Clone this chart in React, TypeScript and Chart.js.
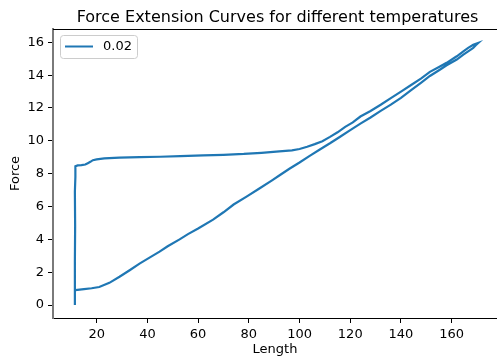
import React, { useEffect, useRef } from 'react';
import { Chart, registerables } from 'chart.js';

Chart.register(...registerables);

const TITLE = 'Force Extension Curves for different temperatures';
const X_LABEL = 'Length';
const Y_LABEL = 'Force';
const SERIES_LABEL = '0.02';

const X_TICKS = [20, 40, 60, 80, 100, 120, 140, 160];
const Y_TICKS = [0, 2, 4, 6, 8, 10, 12, 14, 16];

// loading branch (extension)
const LOAD_LENGTH = [11.4, 11.4, 11.5, 11.4, 11.6, 11.6, 12.5, 14, 15.5, 16.5, 17.5, 18.5, 20, 23, 29, 37, 45, 53, 62, 70, 78, 85, 92, 97, 100, 103, 106, 109, 112, 115, 118, 121, 124, 128, 132, 136, 140, 144, 148, 151.4, 155, 158, 162, 164.6, 166.5, 168.5, 170.5];
const LOAD_FORCE = [0.0, 2.6, 4.8, 6.9, 7.8, 8.45, 8.5, 8.52, 8.56, 8.64, 8.72, 8.82, 8.87, 8.93, 8.98, 9.01, 9.03, 9.07, 9.11, 9.15, 9.2, 9.27, 9.36, 9.42, 9.5, 9.64, 9.8, 9.98, 10.24, 10.52, 10.85, 11.12, 11.48, 11.82, 12.2, 12.6, 13.0, 13.4, 13.8, 14.2, 14.5, 14.75, 15.15, 15.45, 15.66, 15.85, 15.96];

// unloading branch (retraction)
const UNLOAD_LENGTH = [169.5, 168.5, 166.5, 164.6, 162, 158, 155, 151.4, 148, 144, 140, 136, 132, 128, 124, 120, 116, 112, 108, 104, 100, 96, 92.3, 89, 84, 79.1, 74, 70, 65.9, 60, 56, 52.7, 48, 44.8, 41, 36.9, 33, 29, 25, 21, 18, 15, 11.6, 11.4];
const UNLOAD_FORCE = [15.82, 15.66, 15.45, 15.25, 14.95, 14.6, 14.3, 13.95, 13.55, 13.08, 12.62, 12.2, 11.82, 11.42, 11.05, 10.65, 10.25, 9.85, 9.47, 9.08, 8.68, 8.3, 7.92, 7.58, 7.08, 6.6, 6.12, 5.65, 5.2, 4.66, 4.32, 4.0, 3.58, 3.25, 2.9, 2.52, 2.12, 1.72, 1.35, 1.1, 1.02, 0.97, 0.91, 0.9];

const X_MIN = 2.77;
const X_MAX = 177.87;
const Y_MIN = -0.79;
const Y_MAX = 16.81;

const LINE_COLOR = '#1f77b4';
const FONT = '"DejaVu Sans", sans-serif';

export default function App() {
  const canvasRef = useRef<HTMLCanvasElement | null>(null);

  useEffect(() => {
    const canvas = canvasRef.current;
    if (!canvas) return;

    const points = [
      ...LOAD_LENGTH.map((x, i) => ({ x, y: LOAD_FORCE[i] })),
      ...UNLOAD_LENGTH.map((x, i) => ({ x, y: UNLOAD_FORCE[i] })),
    ];

    const decorPlugin = {
      id: 'decor',
      afterDraw(chart: any) {
        const { ctx, chartArea } = chart;
        ctx.save();
        // top spine
        ctx.strokeStyle = '#000';
        ctx.lineWidth = 1;
        ctx.beginPath();
        ctx.moveTo(chartArea.left, Math.round(chartArea.top) + 0.5);
        ctx.lineTo(chartArea.right, Math.round(chartArea.top) + 0.5);
        ctx.stroke();

        // title
        ctx.fillStyle = '#000';
        ctx.font = `16px ${FONT}`;
        ctx.textAlign = 'center';
        ctx.textBaseline = 'alphabetic';
        ctx.fillText(TITLE, (chartArea.left + chartArea.right) / 2 + 2.5, 22);

        // legend
        const lx = 60.5, ly = 35.5, lw = 77, lh = 23;
        ctx.beginPath();
        if ((ctx as any).roundRect) {
          (ctx as any).roundRect(lx, ly, lw, lh, 3);
        } else {
          ctx.rect(lx, ly, lw, lh);
        }
        ctx.fillStyle = 'rgba(255,255,255,0.8)';
        ctx.fill();
        ctx.strokeStyle = '#cccccc';
        ctx.lineWidth = 1;
        ctx.stroke();

        ctx.strokeStyle = LINE_COLOR;
        ctx.lineWidth = 2;
        ctx.beginPath();
        ctx.moveTo(65, 46.5);
        ctx.lineTo(93, 46.5);
        ctx.stroke();

        ctx.fillStyle = '#000';
        ctx.font = `13px ${FONT}`;
        ctx.textAlign = 'left';
        ctx.textBaseline = 'middle';
        ctx.fillText(chart.data.datasets[0].label, 103, 47);
        ctx.restore();
      },
    };

    const chart = new Chart(canvas, {
      type: 'scatter',
      data: {
        datasets: [
          {
            label: SERIES_LABEL,
            data: points,
            showLine: true,
            borderColor: LINE_COLOR,
            backgroundColor: LINE_COLOR,
            borderWidth: 2.2,
            pointRadius: 0,
            tension: 0,
          },
        ],
      },
      options: {
        responsive: false,
        animation: false,
        layout: { padding: { top: 29, left: 0, right: 0, bottom: 0 } },
        plugins: {
          legend: { display: false },
          title: { display: false },
          tooltip: { enabled: false },
        },
        scales: {
          x: {
            type: 'linear',
            min: X_MIN,
            max: X_MAX,
            afterBuildTicks: (scale: any) => {
              scale.ticks = X_TICKS.map((v) => ({ value: v }));
            },
            afterFit: (scale: any) => {
              scale.height = 39;
            },
            grid: {
              display: true,
              drawOnChartArea: false,
              drawTicks: true,
              tickLength: 5,
              tickColor: '#000',
              tickWidth: 1,
            },
            border: { display: true, color: '#000', width: 1 },
            ticks: {
              color: '#000',
              font: { family: FONT, size: 13 },
              padding: 4,
              maxRotation: 0,
              autoSkip: false,
            },
            title: {
              display: true,
              text: X_LABEL,
              color: '#000',
              font: { family: FONT, size: 13 },
              padding: { top: 0, bottom: 0 },
            },
          },
          y: {
            type: 'linear',
            min: Y_MIN,
            max: Y_MAX,
            afterBuildTicks: (scale: any) => {
              scale.ticks = Y_TICKS.map((v) => ({ value: v }));
            },
            afterFit: (scale: any) => {
              scale.width = 53;
            },
            grid: {
              display: true,
              drawOnChartArea: false,
              drawTicks: true,
              tickLength: 5,
              tickColor: '#000',
              tickWidth: 1,
            },
            border: { display: true, color: '#7a7a7a', width: 2 },
            ticks: {
              color: '#000',
              font: { family: FONT, size: 13 },
              padding: 4,
              autoSkip: false,
            },
            title: {
              display: true,
              text: Y_LABEL,
              color: '#000',
              font: { family: FONT, size: 13 },
              padding: { top: 8, bottom: 0 },
            },
          },
        },
      },
      plugins: [decorPlugin],
    });

    return () => {
      chart.destroy();
    };
  }, []);

  return (
    <div style={{ position: 'fixed', left: 0, top: 0, width: 497, height: 357, background: '#fff' }}>
      <canvas ref={canvasRef} width={497} height={357} style={{ display: 'block' }} />
    </div>
  );
}
